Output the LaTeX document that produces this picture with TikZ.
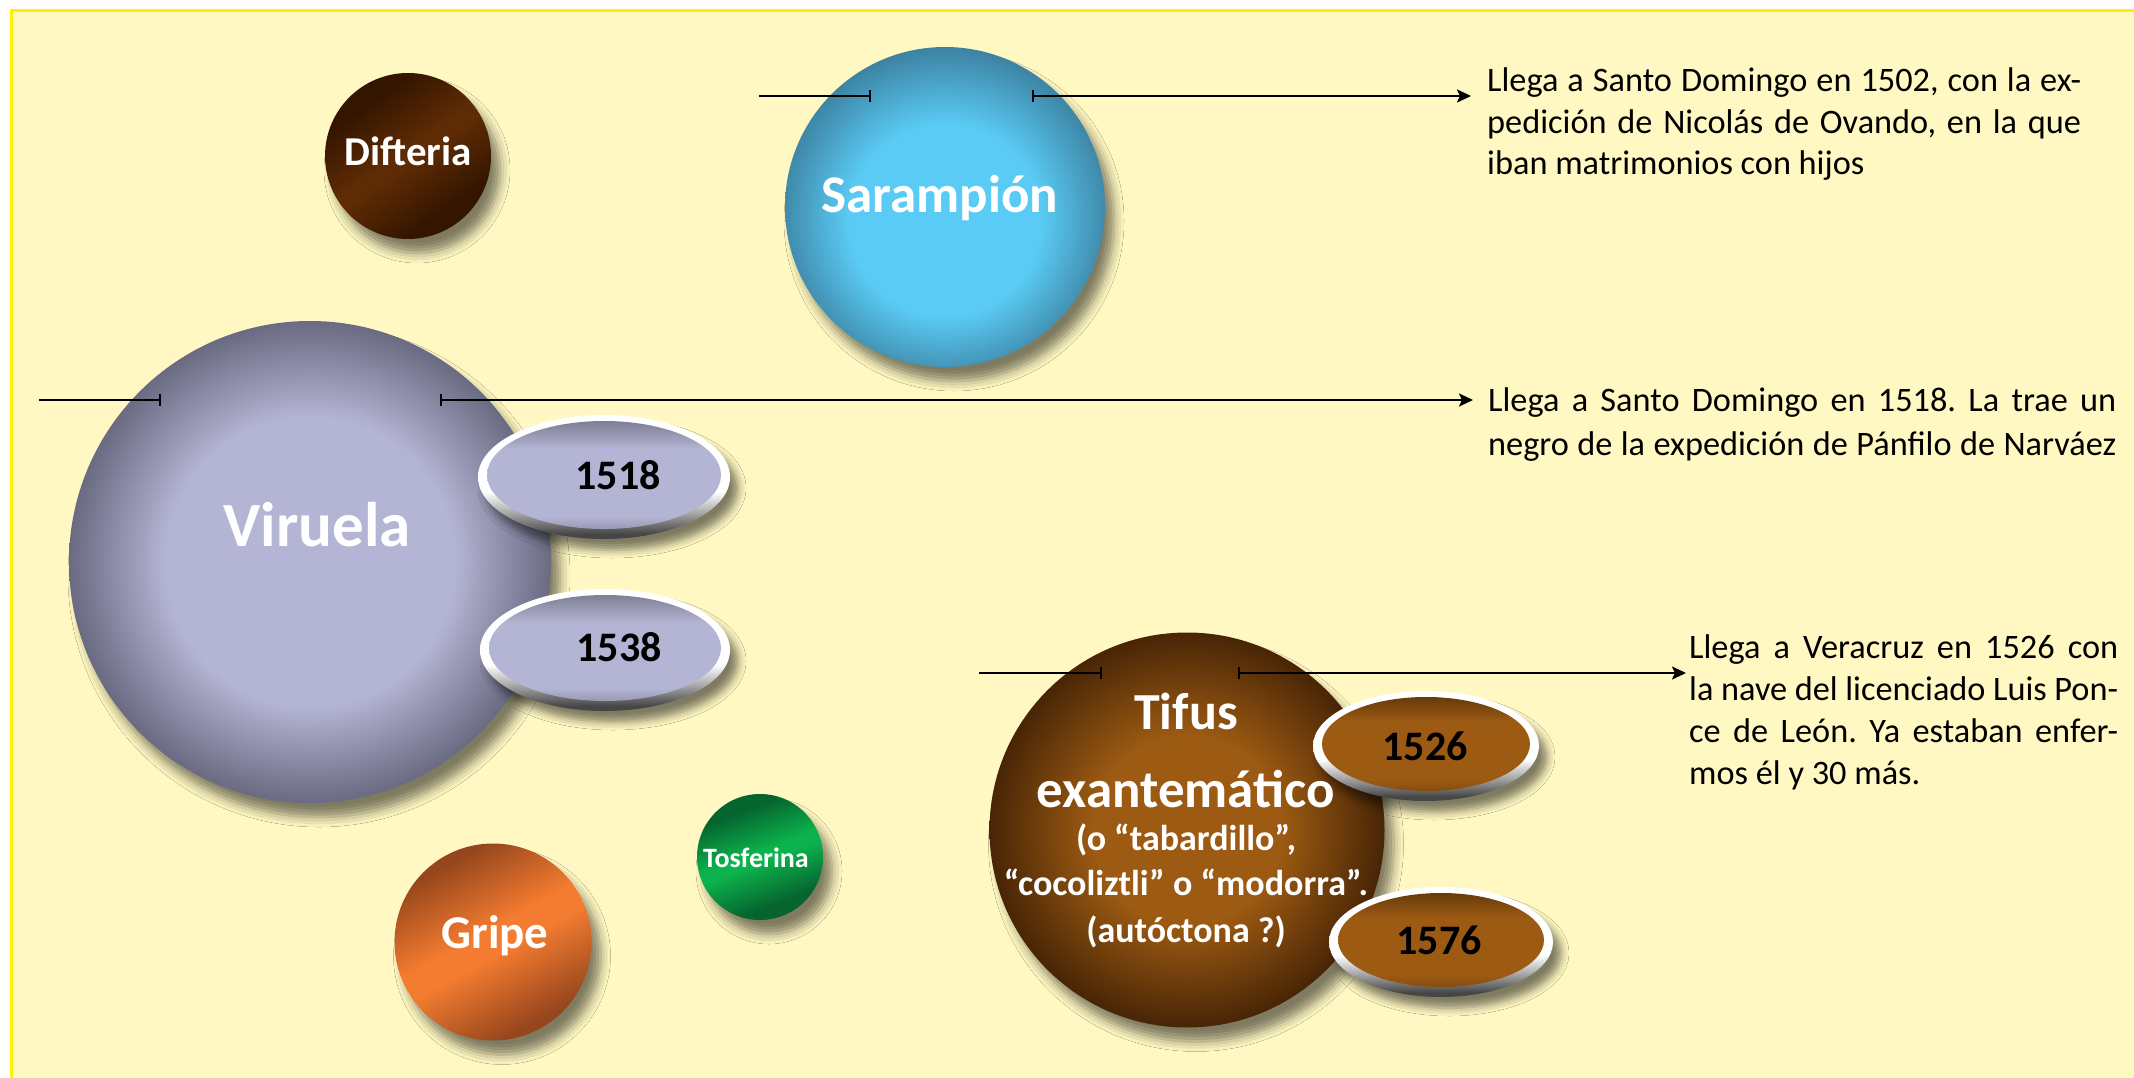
\documentclass[tikz,border=0pt]{standalone}
\usepackage{fontspec}
\setmainfont{Carlito}
\usetikzlibrary{shapes.geometric,arrows.meta,shadows.blur}
\frenchspacing

\definecolor{bgY}{RGB}{255,248,194}
\definecolor{frameY}{RGB}{255,242,0}
\definecolor{difD}{RGB}{52,21,0}
\definecolor{difL}{RGB}{94,43,4}
\definecolor{sarL}{RGB}{90,203,245}
\definecolor{sarD}{RGB}{56,120,150}
\definecolor{virL}{RGB}{180,180,212}
\definecolor{virD}{RGB}{106,106,130}
\definecolor{tifL}{RGB}{156,90,18}
\definecolor{tifD}{RGB}{72,37,6}
\definecolor{griL}{RGB}{244,124,48}
\definecolor{griD}{RGB}{150,70,28}
\definecolor{tosL}{RGB}{12,178,76}
\definecolor{tosD}{RGB}{6,100,46}
\definecolor{rimD}{RGB}{70,70,70}

\pgfdeclareradialshading{sarsh}{\pgfpoint{0bp}{-3bp}}{color(0bp)=(sarL); color(15bp)=(sarL); color(28bp)=(sarD); color(50bp)=(sarD)}
\pgfdeclareradialshading{virsh}{\pgfpoint{0bp}{0bp}}{color(0bp)=(virL); color(15bp)=(virL); color(25bp)=(virD); color(50bp)=(virD)}
\pgfdeclareradialshading{tifsh}{\pgfpoint{0bp}{0bp}}{color(0bp)=(tifL); color(12bp)=(tifL); color(25bp)=(tifD); color(50bp)=(tifD)}
\pgfdeclarehorizontalshading{difsh}{100bp}{color(0bp)=(difD); color(30bp)=(difD); color(48bp)=(difL); color(52bp)=(difL); color(70bp)=(difD); color(100bp)=(difD)}
\pgfdeclarehorizontalshading{grish}{100bp}{color(0bp)=(griD); color(27bp)=(griD); color(47bp)=(griL); color(53bp)=(griL); color(73bp)=(griD); color(100bp)=(griD)}
\pgfdeclarehorizontalshading{tossh}{100bp}{color(0bp)=(tosD); color(30bp)=(tosD); color(48bp)=(tosL); color(52bp)=(tosL); color(70bp)=(tosD); color(100bp)=(tosD)}
\pgfdeclareverticalshading{rimsh}{100bp}{color(0bp)=(rimD); color(27bp)=(rimD); color(36bp)=(rimD!45!white); color(44bp)=(white); color(100bp)=(white)}
\pgfdeclareverticalshading{virin}{100bp}{color(0bp)=(virL!85!black); color(25bp)=(virL!85!black); color(31bp)=(virL); color(62bp)=(virL); color(75bp)=(virL!70!black); color(100bp)=(virL!70!black)}
\pgfdeclareverticalshading{tifin}{100bp}{color(0bp)=(tifL!85!black); color(25bp)=(tifL!85!black); color(31bp)=(tifL); color(62bp)=(tifL); color(75bp)=(tifL!65!black); color(100bp)=(tifL!65!black)}

\begin{document}
\begin{tikzpicture}[x=1pt,y=-1pt,
  disease/.style={circle, inner sep=0pt, shade,
    blur shadow={shadow xshift=9pt, shadow yshift=-14pt, shadow blur radius=10pt, shadow opacity=50}},
  badge/.style={ellipse, inner sep=0pt, shade, shading=rimsh,
    blur shadow={shadow xshift=8pt, shadow yshift=-11pt, shadow blur radius=8pt, shadow opacity=50}},
  dlabel/.style={text=white, inner sep=0pt, anchor=base},
  ylabel/.style={text=black, inner sep=0pt, font=\bfseries\fontsize{42}{50}\selectfont},
  desc/.style={anchor=base west, inner sep=0pt, text=black, font=\fontsize{34.3}{43}\selectfont},
  conn/.style={line width=2.2pt, draw=black},
  startbar/.style={-{Bar[width=12pt]}},
  endarrow/.style={{Bar[width=12pt]}-{Stealth[length=14pt,width=13pt,inset=3pt]}}
]
\useasboundingbox (0,0) rectangle (2134,1078);
\fill[white] (0,0) rectangle (2134,1078);
\draw[frameY, line width=3pt, fill=bgY] (11.5,11) rectangle (2150,1095);

% disease circles
\node[disease, shading=difsh, shading angle=-55, minimum size=166pt] (dif) at (408,156) {};
\node[disease, shading=sarsh, minimum size=320pt] (sar) at (945,207) {};
\node[disease, shading=virsh, minimum size=482pt] (vir) at (310,562) {};
\node[disease, shading=grish, shading angle=-61, minimum size=197pt] (gri) at (493,942) {};
\node[disease, shading=tossh, shading angle=-69, minimum size=126pt] (tos) at (760,857) {};
\node[disease, shading=tifsh, minimum size=395pt] (tif) at (1187,830) {};

% year badges
\node[badge, minimum width=252pt, minimum height=124pt] (b1518) at (604,477) {};
\shade[shading=virin] ([yshift=2pt]b1518.center) ellipse [x radius=117, y radius=54];
\node[badge, minimum width=250pt, minimum height=122pt] (b1538) at (605,650) {};
\shade[shading=virin] ([yshift=2pt]b1538.center) ellipse [x radius=116, y radius=53];
\node[badge, minimum width=226pt, minimum height=110pt] (b1526) at (1426,746) {};
\shade[shading=tifin] ([yshift=2pt]b1526.center) ellipse [x radius=104, y radius=47];
\node[badge, minimum width=224pt, minimum height=110pt] (b1576) at (1441,942) {};
\shade[shading=tifin] ([yshift=2pt]b1576.center) ellipse [x radius=103, y radius=47];

% year labels
\node[ylabel] (l1518) at (618,475) {1518};
\node[ylabel] (l1538) at (619,647) {1538};
\node[ylabel] (l1526) at (1425,746) {1526};
\node[ylabel] (l1576) at (1439,940) {1576};

% disease labels
\node[dlabel, font=\bfseries\fontsize{41}{48}\selectfont] (tdif) at (408,166) {Difteria};
\node[dlabel, font=\bfseries\fontsize{53}{60}\selectfont] (tsar) at (940,213) {Sarampión};
\node[dlabel, font=\bfseries\fontsize{63}{70}\selectfont] (tvir) at (317,546) {Viruela};
\node[dlabel, font=\bfseries\fontsize{47}{54}\selectfont] (tgri) at (495,948) {Gripe};
\node[dlabel, font=\bfseries\fontsize{28}{33}\selectfont] (ttos) at (756,867) {Tosferina};
\node[dlabel, font=\bfseries] (ttif) at (1186,729) {\vtop{\lineskiplimit=-200pt
  \hbox to 420pt{\hss\fontsize{52}{60}\selectfont Tifus\hss}
  \baselineskip=78pt
  \hbox to 420pt{\hss\fontsize{53}{60}\selectfont exantemático\hss}
  \baselineskip=43pt
  \hbox to 420pt{\hss\fontsize{36}{43}\selectfont (o “tabardillo”,\hss}
  \baselineskip=45pt
  \hbox to 420pt{\hss\fontsize{36}{43}\selectfont “cocoliztli” o “modorra”.\hss}
  \baselineskip=47pt
  \hbox to 420pt{\hss\fontsize{36}{43}\selectfont (autóctona ?)\hss}}};

% connectors
\coordinate (a1s) at (759,96);
\coordinate (a1b) at (871,96);
\coordinate (a1c) at (1032,96);
\coordinate (a1e) at (1471,96);
\coordinate (a2s) at (39,400);
\coordinate (a2b) at (161,400);
\coordinate (a2c) at (440,400);
\coordinate (a2e) at (1473,400);
\coordinate (a3s) at (979,673);
\coordinate (a3b) at (1102,673);
\coordinate (a3c) at (1238,673);
\coordinate (a3e) at (1686,673);
\draw[conn, startbar] (a1s) -- (a1b);
\draw[conn, endarrow] (a1c) -- (a1e);
\draw[conn, startbar] (a2s) -- (a2b);
\draw[conn, endarrow] (a2c) -- (a2e);
\draw[conn, startbar] (a3s) -- (a3b);
\draw[conn, endarrow] (a3c) -- (a3e);

% descriptions
\node[desc] (d1) at (1487,92) {\vtop{\lineskiplimit=-200pt\baselineskip=41.5pt
  \hbox to 594pt{Llega a Santo Domingo en 1502, con la ex-}
  \hbox to 594pt{pedición de Nicolás de Ovando, en la que}
  \hbox{iban matrimonios con hijos}}};
\node[desc] (d2) at (1488,411) {\vtop{\lineskiplimit=-200pt\baselineskip=44pt
  \hbox to 628pt{Llega a Santo Domingo en 1518. La trae un}
  \hbox to 628pt{negro de la expedición de Pánfilo de Narváez}}};
\node[desc] (d3) at (1689,658) {\vtop{\lineskiplimit=-200pt\baselineskip=42pt
  \hbox to 429pt{Llega a Veracruz en 1526 con}
  \hbox to 429pt{la nave del licenciado Luis Pon-}
  \hbox to 429pt{ce de León. Ya estaban enfer-}
  \hbox{mos él y 30 más.}}};
\end{tikzpicture}
\end{document}
